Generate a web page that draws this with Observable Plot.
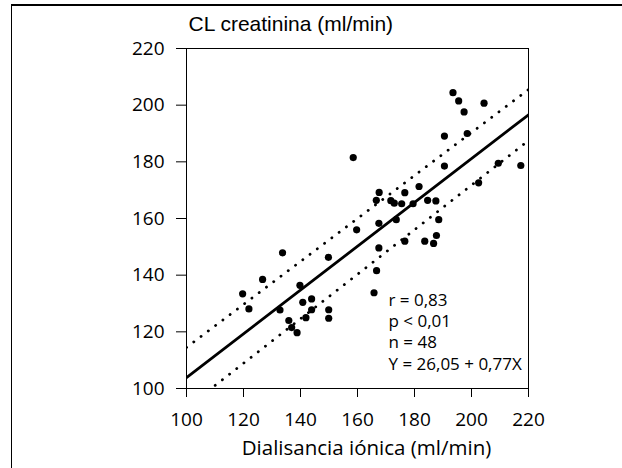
<!DOCTYPE html>
<html>
<head>
<meta charset="utf-8">
<script src="https://cdn.jsdelivr.net/npm/d3@7"></script>
<script src="https://cdn.jsdelivr.net/npm/@observablehq/plot@0.6"></script>
<style>
  html, body { margin: 0; padding: 0; background: #fff; }
  #wrap { position: relative; width: 622px; height: 468px; overflow: hidden; }
  #frame { position: absolute; left: 11px; top: 4px; width: 700px; height: 600px;
           border-top: 2px solid #000; border-left: 1.5px solid #000; pointer-events: none; }
  #chart { position: absolute; left: 0; top: 0; }
</style>
</head>
<body>
<div id="wrap"><div id="frame"></div><div id="chart"></div></div>
<script>
// Points: Dialisancia iónica (x) vs CL creatinina (y)
const dialisancia = [119.7,121.9,126.7,132.8,133.7,135.9,136.9,138.8,139.8,140.8,141.9,143.9,143.9,149.9,149.9,149.8,
  158.5,159.7,165.8,166.7,167.5,167.5,166.6,167.6,171.7,172.9,173.6,175.5,176.6,176.6,179.5,181.6,
  183.6,184.6,186.7,187.5,187.7,188.5,190.5,190.5,193.5,195.5,197.4,198.5,202.5,204.4,209.4,217.3];
const creatinina = [133.4,128.1,138.5,127.7,147.9,124.0,121.5,119.7,136.4,130.4,125.0,131.6,127.8,127.8,124.8,146.3,
  181.5,156.0,133.8,141.6,149.6,158.3,166.4,169.2,166.3,165.4,159.6,165.2,169.1,152.0,165.2,171.3,
  152.0,166.4,151.2,166.2,154.0,159.6,178.5,189.1,204.4,201.5,197.6,190.0,172.6,200.7,179.5,178.7];

// Regression line and dotted bands
const lineX = [100, 220];
const lineY = [103.8, 196.6];
const bandX = [100, 160, 220];
const bandUpper = [114.5, 160.0, 205.5];
const bandLower = [93.2, 140.3, 187.5];

const xTicks = [100, 120, 140, 160, 180, 200, 220];
const yTicks = [100, 120, 140, 160, 180, 200, 220];
const yTitle = ["CL creatinina (ml/min)"];
const xTitle = ["Dialisancia iónica (ml/min)"];
const stats = ["r = 0,83\np < 0,01\nn = 48\nY = 26,05 + 0,77X"];

const points = dialisancia.map((x, i) => ({x, y: creatinina[i]}));
const reg = lineX.map((x, i) => ({x, y: lineY[i]}));
const up = bandX.map((x, i) => ({x, y: bandUpper[i]}));
const lo = bandX.map((x, i) => ({x, y: bandLower[i]}));

const chart = Plot.plot({
  width: 622,
  height: 468,
  marginLeft: 186,
  marginRight: 94,
  marginTop: 48,
  marginBottom: 80,
  style: {fontFamily: "'Open Sans', sans-serif", fontSize: "19px", color: "#000", background: "transparent"},
  x: {domain: [100, 220]},
  y: {domain: [100, 220]},
  marks: [
    Plot.frame({stroke: "#000", strokeWidth: 1}),
    Plot.axisX({ticks: xTicks, tickSize: 9, tickPadding: 15, label: null, fontSize: 19}),
    Plot.axisY({ticks: yTicks, tickSize: 10, tickPadding: 12, label: null, fontSize: 19}),
    Plot.line(up, {x: "x", y: "y", stroke: "#000", strokeWidth: 2.8, strokeLinecap: "round", strokeDasharray: "0.1,9", clip: true}),
    Plot.line(lo, {x: "x", y: "y", stroke: "#000", strokeWidth: 2.8, strokeLinecap: "round", strokeDasharray: "0.1,9", clip: true}),
    Plot.line(reg, {x: "x", y: "y", stroke: "#000", strokeWidth: 2.8, clip: true}),
    Plot.dot(points, {x: "x", y: "y", r: 3.6, fill: "#000"}),
    Plot.text(yTitle, {frameAnchor: "top-left", text: d => d, textAnchor: "start", lineAnchor: "bottom",
      dx: 2, dy: -18, fontFamily: "'Liberation Sans', Arial, sans-serif", fontSize: 21}),
    Plot.text(xTitle, {frameAnchor: "bottom", text: d => d, textAnchor: "middle", lineAnchor: "bottom",
      dx: 9, dy: 66, fontSize: 20.5}),
    Plot.text(stats, {frameAnchor: "bottom-right", text: d => d, textAnchor: "start", lineAnchor: "bottom",
      dx: -140, dy: -19, fontSize: 17, lineHeight: 1.25})
  ]
});
document.getElementById("chart").appendChild(chart);
</script>
</body>
</html>
